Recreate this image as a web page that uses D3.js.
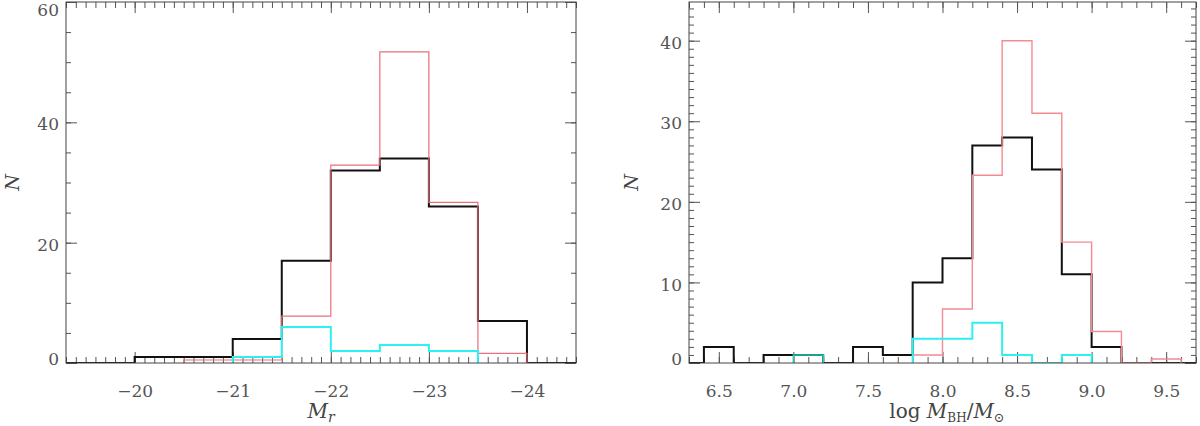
<!DOCTYPE html>
<html>
<head>
<meta charset="utf-8">
<script src="https://cdn.jsdelivr.net/npm/d3@7"></script>
<style>
  body { margin: 0; background: #fff; }
</style>
</head>
<body>
<div id="visuals"></div>
<script>
/* global d3 */
var width = 1200;
var height = 426;
var serif = "'DejaVu Serif', 'Liberation Serif', serif";

// left panel: M_r histogram, bins of 0.5 mag (edges listed left to right on the plot)
var mr_edges = [-19.0, -19.5, -20.0, -20.5, -21.0, -21.5, -22.0, -22.5, -23.0, -23.5, -24.0, -24.5, -25.0];
var mr_black = [0, 0, 1, 1, 4, 17, 32, 34, 26, 7, 0, 0];
var mr_red_edges = [-20.5, -21.0, -21.5, -22.0, -22.5, -23.0, -23.5, -24.0];
var mr_red = [0.5, 0.5, 7.8, 32.9, 51.7, 26.7, 1.6];
var mr_cyan_edges = [-21.0, -21.5, -22.0, -22.5, -23.0, -23.5];
var mr_cyan = [1, 6, 2, 3, 2];
var mr_major = [-20, -21, -22, -23, -24];
var mr_yticks = [0, 20, 40, 60];

// right panel: log M_BH histogram, bins of 0.2 dex
var bh_edges = [6.2, 6.4, 6.6, 6.8, 7.0, 7.2, 7.4, 7.6, 7.8, 8.0, 8.2, 8.4, 8.6, 8.8, 9.0, 9.2, 9.4, 9.6, 9.8];
var bh_black = [0, 2, 0, 1, 1, 0, 2, 1, 10, 13, 27, 28, 24, 11, 2, 0, 0, 0];
var bh_red_edges = [7.8, 8.0, 8.2, 8.4, 8.6, 8.8, 9.0, 9.2, 9.4, 9.6];
var bh_red = [1, 6.7, 23.3, 40, 31, 15, 3.9, 0, 0.5];
var bh_cyan1_edges = [7.0, 7.2];
var bh_cyan1 = [1];
var bh_cyan2_edges = [7.8, 8.0, 8.2, 8.4, 8.6, 8.8, 9.0];
var bh_cyan2 = [3, 3, 5, 1, 0, 1];
var bh_major = [6.5, 7.0, 7.5, 8.0, 8.5, 9.0, 9.5];
var bh_yticks = [0, 10, 20, 30, 40];

var svg = d3.select("#visuals").append("svg")
	.attr("width", width)
	.attr("height", height);

// turn edges + counts into a stepped outline starting and ending at zero
function steps(edges, vals) {
	var pts = [[edges[0], 0]];
	vals.forEach(function(v, i) {
		pts.push([edges[i], v]);
		pts.push([edges[i + 1], v]);
	});
	pts.push([edges[edges.length - 1], 0]);
	return pts;
}

function minor_ticks(a, b, step) {
	var out = [];
	var lo = Math.min(a, b), hi = Math.max(a, b);
	for (var t = Math.ceil(lo / step - 1e-6); t * step <= hi + 1e-6; t++) {
		out.push(+(t * step).toFixed(3));
	}
	return out;
}

function draw_panel(p) {
	var x = d3.scaleLinear().domain(p.xdom).range([p.left, p.right]);
	var y = d3.scaleLinear().domain(p.ydom).range([p.bottom, p.top]);

	var g = svg.append("g");
	var clipId = "clip" + p.id;
	g.append("clipPath").attr("id", clipId)
		.append("rect")
		.attr("x", p.left).attr("y", p.top)
		.attr("width", p.right - p.left).attr("height", p.bottom - p.top);

	var xminor = minor_ticks(p.xdom[0], p.xdom[1], p.xminor);
	var yminor = minor_ticks(p.ydom[0], p.ydom[1], p.yminor);

	function ticks(axis, tr, vals, size, labels) {
		var a = g.append("g")
			.attr("transform", tr)
			.call(axis.tickValues(vals).tickSize(-size).tickPadding(labels ? 12 : 0)
				.tickFormat(labels ? p.fmt : ""));
		a.select(".domain").remove();
		a.selectAll("line").attr("stroke", "#555");
		a.selectAll("text")
			.style("font-family", serif)
			.style("font-size", "17px")
			.attr("fill", "#555");
		return a;
	}

	// minor ticks, all four sides
	ticks(d3.axisBottom(x), "translate(0," + p.bottom + ")", xminor, 6, false);
	ticks(d3.axisTop(x), "translate(0," + p.top + ")", xminor, 6, false);
	ticks(d3.axisLeft(y), "translate(" + p.left + ",0)", yminor, 5, false);
	ticks(d3.axisRight(y), "translate(" + p.right + ",0)", yminor, 5, false);
	// major ticks
	var xb = ticks(d3.axisBottom(x), "translate(0," + p.bottom + ")", p.xmajor, 11, true);
	xb.selectAll("text").attr("dy", "1.3em");
	ticks(d3.axisTop(x), "translate(0," + p.top + ")", p.xmajor, 11, false);
	ticks(d3.axisLeft(y), "translate(" + p.left + ",0)", p.yticks, 11, false);
	ticks(d3.axisRight(y), "translate(" + p.right + ",0)", p.yticks, 11, false);

	// y tick labels, kept inside the frame height like the original
	g.append("g").selectAll("text")
		.data(p.yticks)
		.enter()
		.append("text")
		.attr("x", p.left - 7)
		.attr("y", function(d) { return Math.max(p.top + 8, Math.min(p.bottom - 4, y(d) + 2)); })
		.attr("dy", "0.36em")
		.attr("text-anchor", "end")
		.attr("fill", "#555")
		.style("font-family", serif)
		.style("font-size", "17px")
		.text(function(d) { return d; });

	var line = d3.line()
		.x(function(d) { return x(d[0]); })
		.y(function(d) { return y(d[1]); });

	var hist = g.append("g").attr("clip-path", "url(#" + clipId + ")");
	p.series.forEach(function(s) {
		hist.append("path")
			.attr("d", line(steps(s.edges, s.vals)))
			.attr("fill", "none")
			.attr("stroke", s.color)
			.attr("stroke-width", s.w)
			.attr("stroke-linejoin", "miter");
	});

	g.append("rect")
		.attr("x", p.left).attr("y", p.top)
		.attr("width", p.right - p.left).attr("height", p.bottom - p.top)
		.attr("fill", "none")
		.attr("stroke", "#444")
		.attr("stroke-width", 1);

	// y title
	g.append("text")
		.attr("transform", "translate(" + p.ny + "," + ((p.top + p.bottom) / 2) + ") rotate(-90)")
		.attr("text-anchor", "middle")
		.attr("dy", "0.35em")
		.attr("fill", "#444")
		.style("font-family", serif)
		.style("font-size", "19px")
		.style("font-style", "italic")
		.text("N");

	return x;
}

draw_panel({
	id: "mr", left: 66, right: 576, top: 2, bottom: 363,
	xdom: [-19.3, -24.5], ydom: [0, 60],
	xmajor: mr_major, xminor: 0.1, yticks: mr_yticks, yminor: 5,
	fmt: d3.format("d"), ny: 12,
	series: [
		{edges: mr_edges, vals: mr_black, color: "#111", w: 2},
		{edges: mr_red_edges, vals: mr_red, color: "#e8707a", w: 1.2},
		{edges: mr_cyan_edges, vals: mr_cyan, color: "#2ef0f0", w: 2}
	]
});

draw_panel({
	id: "bh", left: 689, right: 1196, top: 2, bottom: 363,
	xdom: [6.3, 9.7], ydom: [0, 44.8],
	xmajor: bh_major, xminor: 0.1, yticks: bh_yticks, yminor: 1,
	fmt: d3.format(".1f"), ny: 631,
	series: [
		{edges: bh_edges, vals: bh_black, color: "#111", w: 2},
		{edges: bh_red_edges, vals: bh_red, color: "#f48a92", w: 1.4},
		{edges: bh_cyan1_edges, vals: bh_cyan1, color: "#20d0b8", w: 1.6},
		{edges: bh_cyan2_edges, vals: bh_cyan2, color: "#2ef0f0", w: 2}
	]
});

// x titles
var t1 = svg.append("text")
	.attr("x", 321).attr("y", 418)
	.attr("text-anchor", "middle")
	.attr("fill", "#444")
	.style("font-family", serif)
	.style("font-size", "20px");
t1.append("tspan").style("font-style", "italic").text("M");
t1.append("tspan").style("font-style", "italic").style("font-size", "14px").attr("dy", 4).text("r");

var t2 = svg.append("text")
	.attr("x", 947).attr("y", 418)
	.attr("text-anchor", "middle")
	.attr("fill", "#444")
	.style("font-family", serif)
	.style("font-size", "20px");
t2.append("tspan").text("log  ");
t2.append("tspan").style("font-style", "italic").text("M");
t2.append("tspan").style("font-size", "12px").attr("dy", 4).text("BH");
t2.append("tspan").attr("dy", -4).text("/");
t2.append("tspan").style("font-style", "italic").text("M");
t2.append("tspan").style("font-size", "13px").attr("dy", 4).text("\u2299");
</script>
</body>
</html>
